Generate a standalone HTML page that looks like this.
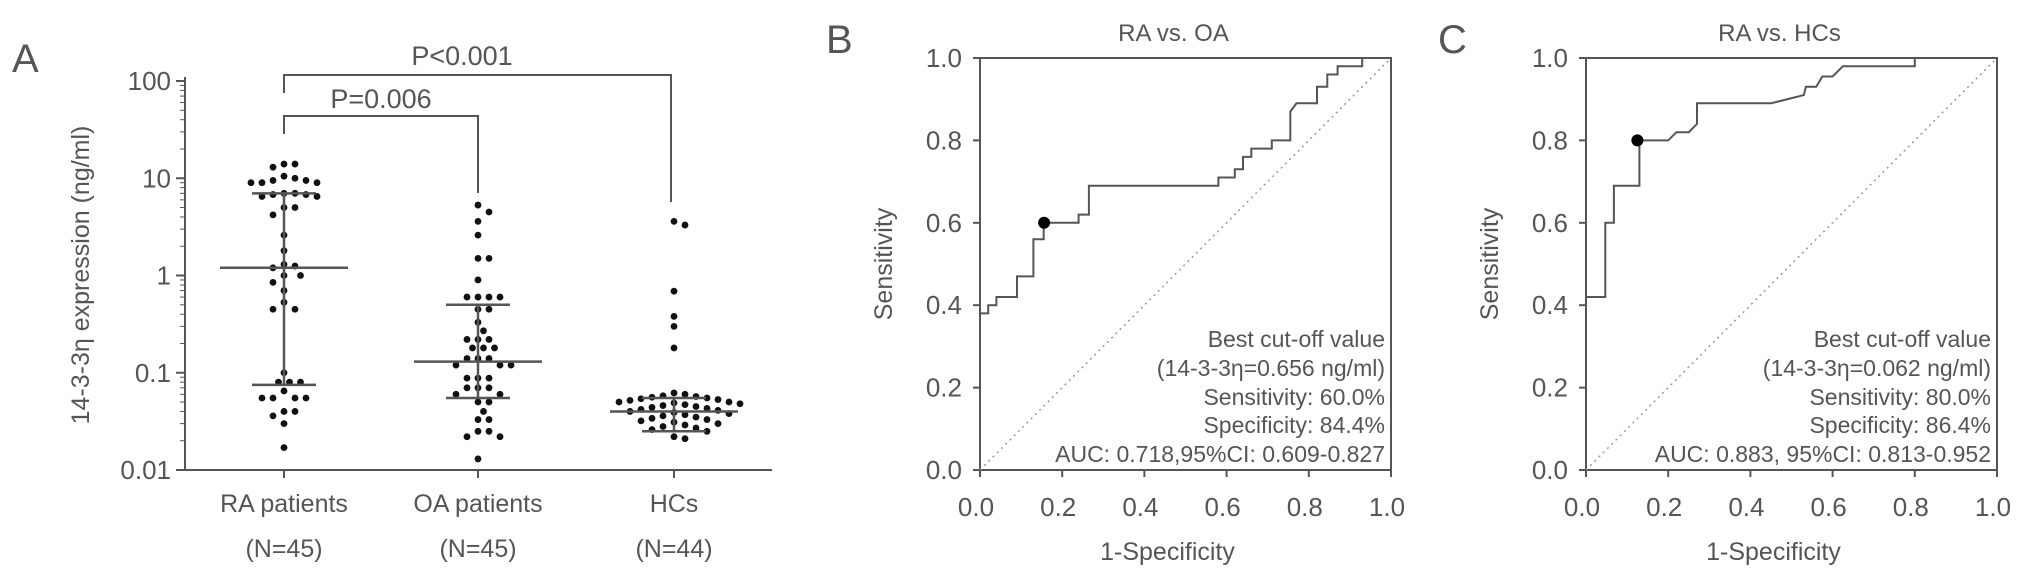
<!DOCTYPE html>
<html><head><meta charset="utf-8"><style>
html,body{margin:0;padding:0;background:#fff;}
svg{display:block;font-family:"Liberation Sans",sans-serif;}
text{fill:#555;}
</style></head><body>
<svg id="fig" width="2031" height="582" viewBox="0 0 2031 582" xmlns="http://www.w3.org/2000/svg">
<g id="pa"></g>
<g id="pb"></g>
<g id="pc"></g>
</svg>
<script>
// ---- Panel A data ----
const groupNames = ["RA patients", "OA patients", "HCs"];
const groupNs = ["(N=45)", "(N=45)", "(N=44)"];
const raValues = [14,13,14, 10,9.5,9,9,9,9.5,10.5, 7,6.8,6.5,6.5,6.8,7, 5,5, 4.2, 2.6, 1.8, 1.25,1.2,1.3,1.0,1.0, 0.85,0.7, 0.53, 0.45,0.45, 0.1, 0.08,0.08,0.08,0.065, 0.055,0.055,0.055,0.055, 0.04,0.04,0.036, 0.03, 0.017];
const oaValues = [5.3,4.5,3.6,2.6,1.5,1.5,0.9,0.6,0.6,0.6,0.6,0.45,0.45,0.33,0.27,0.22,0.22,0.22,0.18,0.18,0.18,0.14,0.14,0.14,0.12,0.12,0.12,0.088,0.088,0.088,0.07,0.07,0.07,0.06,0.06,0.05,0.05,0.04,0.033,0.033,0.025,0.025,0.022,0.022,0.013];
const hcValues = [3.6,3.3,0.69,0.38,0.3,0.18, 0.062,0.06,0.058,0.057,0.056,0.055,0.054,0.053,0.052,0.05,0.05,0.049,0.048,0.047,0.046,0.045,0.044,0.043,0.042,0.041,0.04,0.039,0.038,0.037,0.036,0.035,0.034,0.033,0.032,0.031,0.03,0.029,0.028,0.027,0.026,0.025,0.022,0.021];
const medians = [1.2, 0.13, 0.04];
const q1s = [0.075, 0.055, 0.025];
const q3s = [7, 0.5, 0.055];
const logTickLabels = ["0.01","0.1","1","10","100"];
const logTickValues = [0.01,0.1,1,10,100];
const pValueLabels = ["P=0.006","P<0.001"];

// ---- ROC data ----
const rocB_fpr = [0,0.02,0.02,0.04,0.04,0.09,0.09,0.13,0.13,0.155,0.155,0.24,0.24,0.265,0.265,0.58,0.58,0.62,0.62,0.64,0.64,0.66,0.66,0.71,0.71,0.755,0.755,0.77,0.82,0.82,0.845,0.845,0.87,0.87,0.93,0.93,1];
const rocB_tpr = [0.38,0.38,0.40,0.40,0.42,0.42,0.47,0.47,0.56,0.56,0.60,0.60,0.62,0.62,0.69,0.69,0.71,0.71,0.73,0.73,0.76,0.76,0.78,0.78,0.80,0.80,0.87,0.89,0.89,0.93,0.93,0.96,0.96,0.98,0.98,1,1];
const rocC_fpr = [0,0.047,0.047,0.068,0.068,0.13,0.13,0.2,0.22,0.25,0.27,0.27,0.45,0.53,0.535,0.56,0.575,0.6,0.625,0.8,0.8,1];
const rocC_tpr = [0.42,0.42,0.60,0.60,0.69,0.69,0.80,0.80,0.82,0.82,0.84,0.89,0.89,0.91,0.93,0.93,0.955,0.955,0.98,0.98,1,1];
const cutB = [0.156, 0.60];
const cutC = [0.125, 0.80];
const rocTickLabels = ["0.0","0.2","0.4","0.6","0.8","1.0"];
const rocTickValues = [0,0.2,0.4,0.6,0.8,1.0];
const annotB = ["Best cut-off value","(14-3-3η=0.656 ng/ml)","Sensitivity: 60.0%","Specificity: 84.4%","AUC: 0.718,95%CI: 0.609-0.827"];
const annotC = ["Best cut-off value","(14-3-3η=0.062 ng/ml)","Sensitivity: 80.0%","Specificity: 86.4%","AUC: 0.883, 95%CI: 0.813-0.952"];

const NS = "http://www.w3.org/2000/svg";
const GRAY = "#555";
function mk(parent, tag, attrs, txt){
  const e = document.createElementNS(NS, tag);
  for (const k in attrs) e.setAttribute(k, attrs[k]);
  if (txt !== undefined) e.textContent = txt;
  parent.appendChild(e);
  return e;
}
function line(p, x1,y1,x2,y2, w, name){
  const e = mk(p,"line",{x1,y1,x2,y2,stroke:GRAY,"stroke-width":w||2});
  
  
  return e;
}
function txt(p, x,y,s,size,anchor,name,extra){
  const a = {x,y,"font-size":size,"text-anchor":anchor||"middle"};
  if (extra) for (const k in extra) a[k]=extra[k];
  const e = mk(p,"text",a,s);
  
  
  return e;
}

// ===== Panel A =====
(function(){
  const g = document.getElementById('pa');
  const X0 = 185, X1 = 772, Ytop = 81, Ybot = 470;
  const yS = v => Ybot - (Math.log10(v) - (-2)) / 4 * (Ybot - Ytop);
  const catX = [284, 478, 674];
  txt(g, 12, 72, "A", 40, "start", "panel-a-letter", {fill:"#222"});
  line(g, X0, Ytop-4, X0, Ybot+1, 2, "y-axis");
  line(g, X0-1, Ybot, X1, Ybot, 2, "x-axis");
  for (let d=-2; d<=2; d++){
    const v = Math.pow(10,d);
    line(g, X0-9, yS(v), X0, yS(v), 2, "y-major-tick");
    if (d<2) for (let m=2;m<=9;m++) line(g, X0-5, yS(m*v), X0, yS(m*v), 1, "y-minor-tick");
  }
  logTickLabels.forEach((s,i)=> txt(g, X0-14, yS(logTickValues[i])+9, s, 26, "end", "y-tick-label"));
  txt(g, 0, 0, "14-3-3η expression (ng/ml)", 25, "middle", "y-axis-title", {transform:"translate(89,275) rotate(-90)"});
  groupNames.forEach((s,i)=>{
    line(g, catX[i], Ybot, catX[i], Ybot+8, 2, "x-tick");
    txt(g, catX[i], 512, s, 25, "middle", "x-tick-label");
    txt(g, catX[i], 557, groupNs[i], 25, "middle", "group-n-label");
  });
  const b1 = 116, b2 = 75;
  line(g, catX[0], 134, catX[0], b1, 2, "bracket-ra-oa-left");
  line(g, catX[0]-1, b1, catX[1]+1, b1, 2, "bracket-ra-oa-top");
  line(g, catX[1], b1, catX[1], 193, 2, "bracket-ra-oa-right");
  txt(g, 381, 108, pValueLabels[0], 27, "middle", "p-value-ra-oa");
  line(g, catX[0], 93, catX[0], b2, 2, "bracket-ra-hc-left");
  line(g, catX[0]-1, b2, 672, b2, 2, "bracket-ra-hc-top");
  line(g, 671, b2, 671, 202, 2, "bracket-ra-hc-right");
  txt(g, 462, 65, pValueLabels[1], 27, "middle", "p-value-ra-hc");
  const sets = [raValues, oaValues, hcValues];
  const names = ["ra","oa","hc"];
  sets.forEach((vals,gi)=>{
    const placed = [];
    const sorted = vals.slice().sort((a,b)=>b-a);
    sorted.forEach(v=>{
      const y = yS(v);
      let off = 0;
      for (let k=0;k<40;k++){
        const cand = (k%2===1?1:-1)*Math.ceil(k/2)*5.5;
        const ok = placed.every(p => Math.hypot(p[0]-cand, p[1]-y) >= 9.5);
        if (ok){ off = cand; break; }
      }
      placed.push([off,y]);
      const c = mk(g,"circle",{cx:catX[gi]+off, cy:y, r:3.4, fill:"#111"});
      
      
    });
    line(g, catX[gi]-64, yS(medians[gi]), catX[gi]+64, yS(medians[gi]), 2.5, "median-"+names[gi]);
    line(g, catX[gi]-32, yS(q1s[gi]), catX[gi]+32, yS(q1s[gi]), 2.5, "q1-"+names[gi]);
    line(g, catX[gi]-32, yS(q3s[gi]), catX[gi]+32, yS(q3s[gi]), 2.5, "q3-"+names[gi]);
    line(g, catX[gi], yS(q1s[gi]), catX[gi], yS(q3s[gi]), 2.5, "iqr-"+names[gi]);
  });
})();

// ===== ROC panels =====
function roc(gid, X0, letter, letterX, title, fpr, tpr, cut, annot, pfx){
  const g = document.getElementById(gid);
  const Y0 = 470, Y1 = 58, W = 411;
  const xS = v => X0 + v*W;
  const yS = v => Y0 - v*(Y0-Y1);
  txt(g, letterX, 53, letter, 40, "start", pfx+"-letter", {fill:"#222"});
  txt(g, X0+W/2-12, 41, title, 24, "middle", pfx+"-title");
  const fr = mk(g,"rect",{x:X0,y:Y1,width:W,height:Y0-Y1,fill:"none",stroke:GRAY,"stroke-width":2});
  
  
  const dg = mk(g,"line",{x1:xS(0),y1:yS(0),x2:xS(1),y2:yS(1),stroke:"#999","stroke-width":1.5,"stroke-dasharray":"2 4"});
  
  
  rocTickValues.forEach((v,i)=>{
    line(g, X0-7, yS(v), X0, yS(v), 2, pfx+"-y-tick");
    line(g, xS(v), Y0, xS(v), Y0+7, 2, pfx+"-x-tick");
    txt(g, X0-18, yS(v)+9, rocTickLabels[i], 26, "end", pfx+"-y-tick-label");
    txt(g, xS(v)-4, 516, rocTickLabels[i], 26, "middle", pfx+"-x-tick-label");
  });
  txt(g, X0+W/2-18, 560, "1-Specificity", 25, "middle", pfx+"-x-axis-title");
  txt(g, 0, 0, "Sensitivity", 25, "middle", pfx+"-y-axis-title", {transform:`translate(${X0-88},${264}) rotate(-90)`});
  let d = "";
  fpr.forEach((v,i)=>{ d += (i?"L":"M") + xS(v).toFixed(1) + " " + yS(tpr[i]).toFixed(1); });
  const p = mk(g,"path",{d,fill:"none",stroke:GRAY,"stroke-width":2});
  
  
  const c = mk(g,"circle",{cx:xS(cut[0]),cy:yS(cut[1]),r:6,fill:"#000"});
  
  
  const ys = [347,376,405,433,462];
  annot.forEach((s,i)=> txt(g, X0+W-6, ys[i], s, 23, "end", pfx+"-annotation"));
}
roc('pb', 980, "B", 826, "RA vs. OA", rocB_fpr, rocB_tpr, cutB, annotB, "panel-b");
roc('pc', 1586, "C", 1438, "RA vs. HCs", rocC_fpr, rocC_tpr, cutC, annotC, "panel-c");
</script>
</body></html>
